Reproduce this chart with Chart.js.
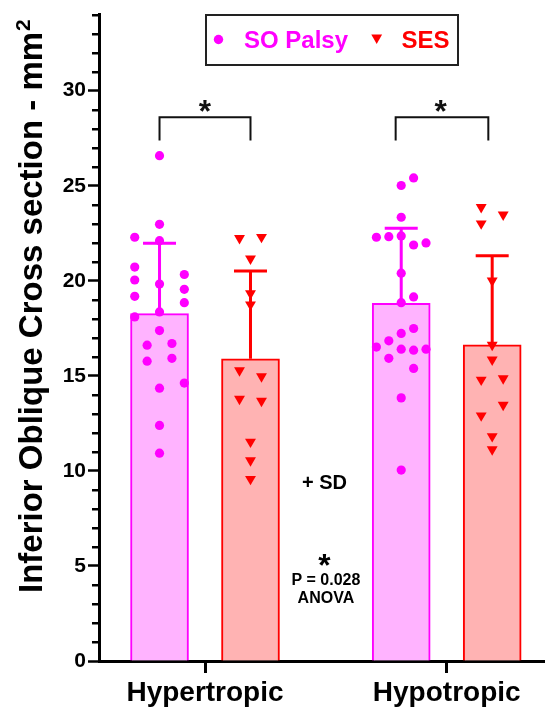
<!DOCTYPE html>
<html><head><meta charset="utf-8">
<script src="https://cdn.jsdelivr.net/npm/chart.js@4.4.0/dist/chart.umd.min.js"></script>
<style>html,body{margin:0;padding:0;background:#fff}#wrap{width:545px;height:708px;position:relative}</style>
</head><body><div id="wrap"><canvas id="c"></canvas></div>
<script>
// ---------- data ----------
const categories = ['Hypertropic', 'Hypotropic'];
const seriesNames = ['SO Palsy', 'SES'];
const soMean = [18.27, 18.81];
const soSD = [3.70, 3.95];
const sesMean = [15.90, 16.63];
const sesSD = [4.61, 4.68];

const soHyperVals = [26.58, 22.97, 22.29, 22.11, 20.72, 20.33, 20.04, 19.83, 19.55, 19.18, 18.85, 18.36, 18.10, 17.38, 16.70, 16.61, 15.92, 15.77, 14.62, 14.35, 12.39, 10.93];
const soHyperCols = [0, 0, -2, 0, -2, 2, -2, 0, 2, -2, 2, 0, -2, 0, 1, -1, 1, -1, 2, 0, 0, 0];
const sesHyperVals = [22.24, 22.30, 21.16, 19.33, 18.75, 15.28, 14.97, 13.78, 13.68, 11.53, 10.55, 9.57];
const sesHyperCols = [-1, 1, 0, 0, 0, -1, 1, -1, 1, 0, 0, 0];
const soHypoVals = [25.41, 25.01, 23.34, 22.29, 22.32, 22.36, 21.88, 21.99, 20.40, 19.15, 18.85, 17.49, 17.23, 16.84, 16.51, 16.40, 16.35, 16.40, 15.92, 15.39, 13.84, 10.04];
const soHypoCols = [1, 0, 0, -2, -1, 0, 1, 2, 0, 1, 0, 1, 0, -1, -2, 0, 1, 2, -1, 1, 0, 0];
const sesHypoVals = [23.87, 23.48, 23.01, 20.00, 16.62, 15.85, 14.79, 14.86, 13.47, 12.91, 11.82, 11.13];
const sesHypoCols = [-1, 1, -1, 0, 0, 0, -1, 1, 1, -1, 0, 0];

const yTicks = [0, 5, 10, 15, 20, 25, 30];
const yMin = 0, yMax = 34;

// ---------- layout / styles ----------
const FONT = '"Liberation Sans", Arial, Helvetica, sans-serif';
const MAG = '#FF00FF', MAG_FILL = '#FFB3FF';
const RED = '#FF0000', RED_FILL = '#FFB3B3';
const catPos = [1, 2];
const barOff = 0.1882;
const stepCircle = 0.0513, stepTri = 0.0455;
const xMin = 0.5614, xMax = 2.4067;

function pts(vals, cols, center, step) {
  return vals.map((v, i) => ({ x: center + cols[i] * step, y: v }));
}

const soBars = categories.map((c, i) => ({ x: catPos[i] - barOff, y: soMean[i] }));
const sesBars = categories.map((c, i) => ({ x: catPos[i] + barOff, y: sesMean[i] }));
const soPts = pts(soHyperVals, soHyperCols, catPos[0] - barOff, stepCircle)
  .concat(pts(soHypoVals, soHypoCols, catPos[1] - barOff, stepCircle));
const sesPts = pts(sesHyperVals, sesHyperCols, catPos[0] + barOff, stepTri)
  .concat(pts(sesHypoVals, sesHypoCols, catPos[1] + barOff, stepTri));

const errInfo = { 0: { sd: soSD, color: MAG }, 1: { sd: sesSD, color: RED } };

function glyphCentered(ctx, text, font, cx, cy) {
  ctx.font = font;
  ctx.textAlign = 'center';
  ctx.textBaseline = 'alphabetic';
  const m = ctx.measureText(text);
  const a = m.actualBoundingBoxAscent, d = m.actualBoundingBoxDescent;
  ctx.fillText(text, cx, cy + (a - d) / 2);
}
function star(ctx, cx, cy, h) {
  ctx.font = 'bold 100px ' + FONT;
  const m = ctx.measureText('*');
  const hh = m.actualBoundingBoxAscent + m.actualBoundingBoxDescent;
  const size = 100 * h / hh;
  glyphCentered(ctx, '*', 'bold ' + size.toFixed(2) + 'px ' + FONT, cx, cy);
}

const decor = {
  id: 'decor',
  afterDatasetDraw(chart, args) {
    const info = errInfo[args.index];
    if (!info) return;
    const ctx = chart.ctx, y = chart.scales.y;
    const meta = chart.getDatasetMeta(args.index);
    ctx.save();
    ctx.strokeStyle = info.color;
    ctx.lineWidth = 3;
    meta.data.forEach((el, i) => {
      const v = chart.data.datasets[args.index].data[i].y;
      const top = y.getPixelForValue(v + info.sd[i]);
      const base = y.getPixelForValue(v);
      ctx.beginPath();
      ctx.moveTo(el.x, base); ctx.lineTo(el.x, top);
      ctx.moveTo(el.x - 16.5, top); ctx.lineTo(el.x + 16.5, top);
      ctx.stroke();
    });
    ctx.restore();
  },
  afterDraw(chart) {
    const ctx = chart.ctx, xs = chart.scales.x, ys = chart.scales.y;
    const left = chart.chartArea.left;
    ctx.save();
    // minor ticks
    ctx.strokeStyle = '#000'; ctx.lineWidth = 2.5;
    for (let v = yMin; v <= yMax; v++) {
      if (yTicks.includes(v)) continue;
      const py = Math.round(ys.getPixelForValue(v)) + 0.25;
      ctx.beginPath(); ctx.moveTo(left - 7, py); ctx.lineTo(left, py); ctx.stroke();
    }
    // significance brackets
    const brackets = [
      { x1: catPos[0] - barOff, x2: catPos[0] + barOff, xs: catPos[0] },
      { x1: catPos[1] - barOff - 0.023, x2: catPos[1] + barOff - 0.016, xs: catPos[1] - 0.025 }
    ];
    ctx.lineWidth = 2; ctx.strokeStyle = '#111'; ctx.fillStyle = '#111';
    brackets.forEach(b => {
      const a = xs.getPixelForValue(b.x1), c = xs.getPixelForValue(b.x2);
      const t = ys.getPixelForValue(28.6), bt = ys.getPixelForValue(27.38);
      ctx.beginPath();
      ctx.moveTo(a, bt); ctx.lineTo(a, t); ctx.lineTo(c, t); ctx.lineTo(c, bt);
      ctx.stroke();
      star(ctx, xs.getPixelForValue(b.xs), ys.getPixelForValue(29.2), 12);
    });
    // annotation text
    ctx.fillStyle = '#000';
    const ax = xs.getPixelForValue(1.494);
    glyphCentered(ctx, '+ SD', 'bold 20px ' + FONT, ax, ys.getPixelForValue(9.42));
    star(ctx, ax, ys.getPixelForValue(5.29), 12);
    glyphCentered(ctx, 'P = 0.028', 'bold 16px ' + FONT, ax + 1.5, ys.getPixelForValue(4.29));
    glyphCentered(ctx, 'ANOVA', 'bold 16px ' + FONT, ax + 1.5, ys.getPixelForValue(3.35));
    // legend
    ctx.lineWidth = 2; ctx.strokeStyle = '#222';
    ctx.strokeRect(206, 15, 252, 50);
    ctx.fillStyle = MAG;
    ctx.beginPath(); ctx.arc(218.5, 39.5, 4.7, 0, Math.PI * 2); ctx.fill();
    ctx.font = 'bold 24px ' + FONT; ctx.textAlign = 'left'; ctx.textBaseline = 'alphabetic';
    ctx.fillText(seriesNames[0], 244, 47.5);
    ctx.fillStyle = RED;
    ctx.beginPath();
    ctx.moveTo(371.3, 34.5); ctx.lineTo(382.1, 34.5); ctx.lineTo(376.7, 44); ctx.closePath(); ctx.fill();
    ctx.fillText(seriesNames[1], 401.5, 47.5);
    // y-axis title with superscript
    ctx.fillStyle = '#000';
    ctx.translate(41.5, 593);
    ctx.rotate(-Math.PI / 2);
    ctx.font = 'bold 33px ' + FONT;
    const main = 'Inferior Oblique Cross section - mm';
    ctx.fillText(main, 0, 0);
    const w = ctx.measureText(main).width;
    ctx.font = 'bold 21px ' + FONT;
    ctx.fillText('2', w + 1, -12);
    ctx.restore();
  }
};

new Chart(document.getElementById('c'), {
  type: 'bar',
  data: {
    datasets: [
      { type: 'bar', label: seriesNames[0], data: soBars, backgroundColor: MAG_FILL, borderColor: MAG, borderWidth: 2, borderSkipped: 'bottom', barThickness: 58, grouped: false, order: 3 },
      { type: 'bar', label: seriesNames[1], data: sesBars, backgroundColor: RED_FILL, borderColor: RED, borderWidth: 2, borderSkipped: 'bottom', barThickness: 58, grouped: false, order: 3 },
      { type: 'scatter', label: seriesNames[0] + ' pts', data: soPts, pointStyle: 'circle', pointRadius: 4.6, pointBorderWidth: 0, backgroundColor: MAG, borderColor: MAG, order: 1 },
      { type: 'scatter', label: seriesNames[1] + ' pts', data: sesPts, pointStyle: 'triangle', rotation: 180, pointRadius: 6.3, pointBorderWidth: 0, backgroundColor: RED, borderColor: RED, order: 1 }
    ]
  },
  options: {
    responsive: true,
    maintainAspectRatio: false,
    animation: false,
    layout: { autoPadding: false, padding: { top: 10, right: 0, left: 0, bottom: 0 } },
    plugins: { legend: { display: false }, tooltip: { enabled: false } },
    scales: {
      x: {
        type: 'linear', min: xMin, max: xMax, offset: false,
        grid: { display: true, drawOnChartArea: false, drawTicks: true, tickLength: 12, tickWidth: 3, tickColor: '#000', offset: false },
        border: { display: true, color: '#000', width: 3 },
        afterBuildTicks: s => { s.ticks = catPos.map(v => ({ value: v })); },
        afterFit: s => { s.height = 47; },
        ticks: { autoSkip: false, maxRotation: 0, padding: 3, color: '#000', font: { family: FONT, size: 28, weight: 'bold' }, callback: (v, i) => categories[i] }
      },
      y: {
        min: yMin, max: yMax,
        grid: { display: true, drawOnChartArea: false, drawTicks: true, tickLength: 11, tickWidth: 2.5, tickColor: '#000' },
        border: { display: true, color: '#000', width: 3 },
        afterBuildTicks: s => { s.ticks = yTicks.map(v => ({ value: v })); },
        afterFit: s => { s.width = 99; },
        ticks: { padding: 2, color: '#000', font: { family: FONT, size: 21, weight: 'bold' } }
      }
    }
  },
  plugins: [decor]
});
</script>
</body></html>
